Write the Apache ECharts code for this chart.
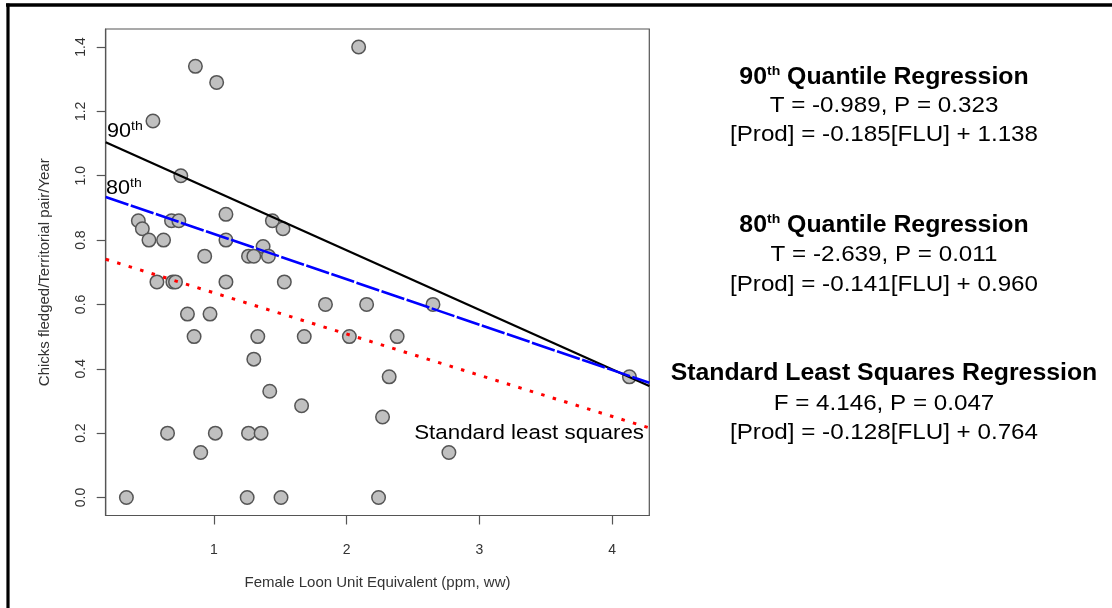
<!DOCTYPE html>
<html>
<head>
<meta charset="utf-8">
<script src="https://cdn.jsdelivr.net/npm/echarts@6/dist/echarts.min.js"></script>
<style>
  html, body { margin: 0; padding: 0; background: #ffffff; }
  #chart { width: 1112px; height: 608px; }
</style>
</head>
<body>
<div id="chart"></div>
<script>
// Female loon unit equivalent (ppm, ww) and chicks fledged per territorial pair per year
const fluValues = [
  2.09, 0.86, 1.02, 0.54, 0.75, 1.09, 0.43, 0.68, 0.735, 1.44,
  1.52, 0.46, 0.51, 0.62, 1.09, 1.37, 0.93, 1.26, 1.30, 1.41,
  0.57, 0.69, 0.71, 1.09, 1.53, 1.84, 2.15, 2.65, 0.80, 0.97,
  0.85, 1.33, 1.68, 2.02, 2.38, 1.30, 1.42, 1.66, 0.65, 1.01,
  1.26, 1.355, 0.90, 0.34, 1.25, 1.505, 2.24, 2.32, 2.27, 2.77,
  4.13
];
const productivity = [
  1.40, 1.34, 1.29, 1.17, 1.00, 0.88, 0.86, 0.86, 0.86, 0.86,
  0.835, 0.835, 0.80, 0.80, 0.80, 0.78, 0.75, 0.75, 0.75, 0.75,
  0.67, 0.67, 0.67, 0.67, 0.67, 0.60, 0.60, 0.60, 0.57, 0.57,
  0.50, 0.50, 0.50, 0.50, 0.50, 0.43, 0.33, 0.285, 0.20, 0.20,
  0.20, 0.20, 0.14, 0.00, 0.00, 0.00, 0.00, 0.375, 0.25, 0.14,
  0.375
];

// Fitted models: [Prod] = slope * [FLU] + intercept
const q90Fit = { slope: -0.185, intercept: 1.138 };
const q80Fit = { slope: -0.141, intercept: 0.960 };
const lsFit  = { slope: -0.128, intercept: 0.764 };

// Axis extents and tick labels
const xRange = [0.184, 4.28];
const yRange = [-0.056, 1.456];
const xTicks = [1, 2, 3, 4];
const yTicks = [0.0, 0.2, 0.4, 0.6, 0.8, 1.0, 1.2, 1.4];

const points = fluValues.map((x, i) => [x, productivity[i]]);
const fitLine = f => xRange.map(x => [x, f.slope * x + f.intercept]);

const FONT = '"Liberation Sans", Arial, sans-serif';

const chart = echarts.init(document.getElementById('chart'), null, { renderer: 'canvas' });

// Text block on the right: bold heading, test statistic, fitted equation
const CX = 884;
const statBlock = (yTitle, yStat, yEq, titleRich, line2, line3) => ([
  {
    type: 'text', x: CX, y: yTitle, scaleX: 1.08, z: 10,
    style: {
      text: titleRich, x: 0, y: 0, align: 'center', verticalAlign: 'middle',
      rich: {
        b: { fontFamily: FONT, fontWeight: 'bold', fontSize: 23, fill: '#000', lineHeight: 26 },
        sup: { fontFamily: FONT, fontWeight: 'bold', fontSize: 13, fill: '#000', verticalAlign: 'top', lineHeight: 16 }
      }
    }
  },
  {
    type: 'text', x: CX, y: yStat, scaleX: 1.1, z: 10,
    style: { text: line2, x: 0, y: 0, align: 'center', verticalAlign: 'middle',
      font: '22px ' + FONT, fill: '#000' }
  },
  {
    type: 'text', x: CX, y: yEq, scaleX: 1.1, z: 10,
    style: { text: line3, x: 0, y: 0, align: 'center', verticalAlign: 'middle',
      font: '22px ' + FONT, fill: '#000' }
  }
]);

const ordinalRich = {
  n: { fontFamily: FONT, fontSize: 20, fill: '#000', lineHeight: 22 },
  s: { fontFamily: FONT, fontSize: 13, fill: '#000', verticalAlign: 'top', lineHeight: 14 }
};

const option = {
  backgroundColor: '#ffffff',
  animation: false,
  grid: {
    left: 105.7, right: 462.7, top: 29, bottom: 92.5,
    show: true, borderColor: '#555', borderWidth: 1.2,
    containLabel: false, outerBoundsMode: 'none'
  },
  xAxis: {
    type: 'value', min: xRange[0], max: xRange[1],
    name: 'Female Loon Unit Equivalent (ppm, ww)',
    nameLocation: 'middle', nameGap: 60,
    nameTextStyle: { fontFamily: FONT, fontSize: 15, color: '#333' },
    axisLine: { show: true, onZero: false, lineStyle: { color: '#555', width: 1.2 } },
    axisTick: { show: true, inside: false, length: 9, customValues: xTicks,
      lineStyle: { color: '#555', width: 1.2 } },
    axisLabel: { customValues: xTicks, margin: 28, fontFamily: FONT, fontSize: 14, color: '#333',
      formatter: v => String(v) },
    splitLine: { show: false }
  },
  yAxis: {
    type: 'value', min: yRange[0], max: yRange[1],
    name: 'Chicks fledged/Territorial pair/Year',
    nameLocation: 'middle', nameGap: 53, nameRotate: 90,
    nameTextStyle: { fontFamily: FONT, fontSize: 15, color: '#333' },
    axisLine: { show: true, onZero: false, lineStyle: { color: '#555', width: 1.2 } },
    axisTick: { show: true, inside: false, length: 9, customValues: yTicks,
      lineStyle: { color: '#555', width: 1.2 } },
    axisLabel: { customValues: yTicks, rotate: 90, margin: 18, fontFamily: FONT, fontSize: 14,
      color: '#333', formatter: v => v.toFixed(1) },
    splitLine: { show: false }
  },
  series: [
    {
      name: 'Nests', type: 'scatter', data: points, symbol: 'circle', symbolSize: 13.5, z: 3,
      itemStyle: { color: '#c0c0c0', borderColor: '#555', borderWidth: 1.5, opacity: 1 }
    },
    {
      name: '90th quantile', type: 'line', data: fitLine(q90Fit), showSymbol: false, z: 4,
      lineStyle: { color: '#000', width: 2.2, type: 'solid' }
    },
    {
      name: '80th quantile', type: 'line', data: fitLine(q80Fit), showSymbol: false, z: 4,
      lineStyle: { color: '#0000ff', width: 2.6, type: [24, 2.5] }
    },
    {
      name: 'Least squares', type: 'line', data: fitLine(lsFit), showSymbol: false, z: 4,
      lineStyle: { color: '#ff0000', width: 3, type: [3.5, 8.5] }
    }
  ],
  graphic: [
    // page frame (top and left rules)
    { type: 'line', shape: { x1: 6, y1: 5, x2: 1112, y2: 5 }, style: { stroke: '#000', lineWidth: 3.4 }, z: 20 },
    { type: 'line', shape: { x1: 8, y1: 3.5, x2: 8, y2: 608 }, style: { stroke: '#000', lineWidth: 3.2 }, z: 20 },
    // in-plot line labels
    {
      type: 'text', x: 107, y: 131, scaleX: 1.08, z: 10,
      style: { text: '{n|90}{s|th}', x: 0, y: 0, align: 'left', verticalAlign: 'middle', rich: ordinalRich }
    },
    {
      type: 'text', x: 106, y: 188, scaleX: 1.08, z: 10,
      style: { text: '{n|80}{s|th}', x: 0, y: 0, align: 'left', verticalAlign: 'middle', rich: ordinalRich }
    },
    {
      type: 'text', x: 644, y: 433, scaleX: 1.09, z: 10,
      style: { text: 'Standard least squares', x: 0, y: 0, align: 'right', verticalAlign: 'middle',
        font: '20.5px ' + FONT, fill: '#000' }
    },
    ...statBlock(78, 106, 135, '{b|90}{sup|th}{b| Quantile Regression}',
      'T = -0.989, P = 0.323', '[Prod] = -0.185[FLU] + 1.138'),
    ...statBlock(226, 255, 285, '{b|80}{sup|th}{b| Quantile Regression}',
      'T = -2.639, P = 0.011', '[Prod] = -0.141[FLU] + 0.960'),
    ...statBlock(374, 404, 433, '{b|Standard Least Squares Regression}',
      'F = 4.146, P = 0.047', '[Prod] = -0.128[FLU] + 0.764')
  ]
};

chart.setOption(option);
</script>
</body>
</html>
